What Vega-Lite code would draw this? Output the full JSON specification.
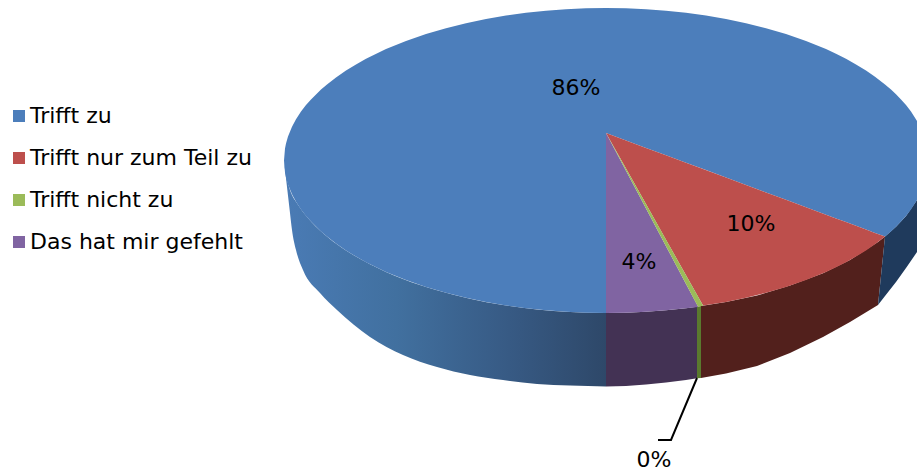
{"$schema":"https://vega.github.io/schema/vega-lite/v6.json","width":917,"height":471,"padding":0,"autosize":"none","background":"white","config":{"view":{"stroke":null}},
"datasets":{
"top":[
{"answer":"Trifft zu","x":284,"upper":160.5,"lower":160.5},{"answer":"Trifft zu","x":285,"upper":148.5,"lower":172.5},{"answer":"Trifft zu","x":286,"upper":143.5,"lower":177.5},{"answer":"Trifft zu","x":288,"upper":136.5,"lower":184.5},{"answer":"Trifft zu","x":292,"upper":126.7,"lower":194.3},{"answer":"Trifft zu","x":296,"upper":119.2,"lower":201.8},{"answer":"Trifft zu","x":301,"upper":111.6,"lower":209.4},{"answer":"Trifft zu","x":306,"upper":105.1,"lower":215.9},{"answer":"Trifft zu","x":311,"upper":99.4,"lower":221.6},{"answer":"Trifft zu","x":321,"upper":89.5,"lower":231.5},{"answer":"Trifft zu","x":327,"upper":84.4,"lower":236.6},{"answer":"Trifft zu","x":336,"upper":77.4,"lower":243.6},{"answer":"Trifft zu","x":346,"upper":70.5,"lower":250.5},{"answer":"Trifft zu","x":356,"upper":64.4,"lower":256.6},{"answer":"Trifft zu","x":366,"upper":58.8,"lower":262.2},{"answer":"Trifft zu","x":386,"upper":49.1,"lower":271.9},{"answer":"Trifft zu","x":406,"upper":41,"lower":280},{"answer":"Trifft zu","x":426,"upper":34.1,"lower":286.9},{"answer":"Trifft zu","x":446,"upper":28.2,"lower":292.8},{"answer":"Trifft zu","x":466,"upper":23.2,"lower":297.8},{"answer":"Trifft zu","x":486,"upper":19,"lower":302},{"answer":"Trifft zu","x":506,"upper":15.5,"lower":305.5},{"answer":"Trifft zu","x":526,"upper":12.8,"lower":308.2},{"answer":"Trifft zu","x":546,"upper":10.7,"lower":310.3},{"answer":"Trifft zu","x":566,"upper":9.2,"lower":311.8},{"answer":"Trifft zu","x":586,"upper":8.3,"lower":312.7},{"answer":"Trifft zu","x":606,"upper":8,"lower":313},{"answer":"Trifft zu","x":606,"upper":8,"lower":133},{"answer":"Trifft zu","x":626,"upper":8.3,"lower":140.4},{"answer":"Trifft zu","x":646,"upper":9.2,"lower":147.9},{"answer":"Trifft zu","x":666,"upper":10.7,"lower":155.3},{"answer":"Trifft zu","x":686,"upper":12.8,"lower":162.7},{"answer":"Trifft zu","x":706,"upper":15.5,"lower":170.1},{"answer":"Trifft zu","x":726,"upper":19,"lower":177.6},{"answer":"Trifft zu","x":746,"upper":23.2,"lower":185},{"answer":"Trifft zu","x":766,"upper":28.2,"lower":192.4},{"answer":"Trifft zu","x":786,"upper":34.1,"lower":199.8},{"answer":"Trifft zu","x":806,"upper":41,"lower":207.3},{"answer":"Trifft zu","x":816,"upper":44.9,"lower":211},{"answer":"Trifft zu","x":826,"upper":49.1,"lower":214.7},{"answer":"Trifft zu","x":836,"upper":53.8,"lower":218.4},{"answer":"Trifft zu","x":846,"upper":58.8,"lower":222.1},{"answer":"Trifft zu","x":856,"upper":64.4,"lower":225.8},{"answer":"Trifft zu","x":866,"upper":70.5,"lower":229.5},{"answer":"Trifft zu","x":875,"upper":76.7,"lower":232.9},{"answer":"Trifft zu","x":885,"upper":84.4,"lower":236.6},{"answer":"Trifft zu","x":891,"upper":89.5,"lower":231.5},{"answer":"Trifft zu","x":896,"upper":94.2,"lower":226.8},{"answer":"Trifft zu","x":901,"upper":99.4,"lower":221.6},{"answer":"Trifft zu","x":906,"upper":105.1,"lower":215.9},{"answer":"Trifft zu","x":911,"upper":111.6,"lower":209.4},{"answer":"Trifft zu","x":917,"upper":121,"lower":200},
{"answer":"Trifft nur zum Teil zu","x":606,"upper":133,"lower":133},{"answer":"Trifft nur zum Teil zu","x":626,"upper":140.4,"lower":168.6},{"answer":"Trifft nur zum Teil zu","x":646,"upper":147.9,"lower":204.1},{"answer":"Trifft nur zum Teil zu","x":666,"upper":155.3,"lower":239.7},{"answer":"Trifft nur zum Teil zu","x":686,"upper":162.7,"lower":275.2},{"answer":"Trifft nur zum Teil zu","x":703,"upper":169,"lower":305.5},{"answer":"Trifft nur zum Teil zu","x":726,"upper":177.6,"lower":302},{"answer":"Trifft nur zum Teil zu","x":746,"upper":185,"lower":297.8},{"answer":"Trifft nur zum Teil zu","x":766,"upper":192.4,"lower":292.8},{"answer":"Trifft nur zum Teil zu","x":786,"upper":199.8,"lower":286.9},{"answer":"Trifft nur zum Teil zu","x":806,"upper":207.3,"lower":280},{"answer":"Trifft nur zum Teil zu","x":816,"upper":211,"lower":276.1},{"answer":"Trifft nur zum Teil zu","x":826,"upper":214.7,"lower":271.9},{"answer":"Trifft nur zum Teil zu","x":836,"upper":218.4,"lower":267.2},{"answer":"Trifft nur zum Teil zu","x":846,"upper":222.1,"lower":262.2},{"answer":"Trifft nur zum Teil zu","x":856,"upper":225.8,"lower":256.6},{"answer":"Trifft nur zum Teil zu","x":866,"upper":229.5,"lower":250.5},{"answer":"Trifft nur zum Teil zu","x":875,"upper":232.9,"lower":244.3},{"answer":"Trifft nur zum Teil zu","x":885,"upper":236.6,"lower":236.6},
{"answer":"Das hat mir gefehlt","x":606,"upper":133,"lower":313},{"answer":"Das hat mir gefehlt","x":626,"upper":170.7,"lower":312.7},{"answer":"Das hat mir gefehlt","x":646,"upper":208.4,"lower":311.8},{"answer":"Das hat mir gefehlt","x":666,"upper":246.2,"lower":310.3},{"answer":"Das hat mir gefehlt","x":686,"upper":283.9,"lower":308.2},{"answer":"Das hat mir gefehlt","x":698,"upper":306.5,"lower":306.9},
{"answer":"Trifft nicht zu","x":606,"upper":133,"lower":133},{"answer":"Trifft nicht zu","x":646,"upper":204.1,"lower":208.4},{"answer":"Trifft nicht zu","x":686,"upper":275.2,"lower":283.9},{"answer":"Trifft nicht zu","x":698,"upper":296.6,"lower":306.7},{"answer":"Trifft nicht zu","x":703,"upper":305.5,"lower":305.7}
],
"sideBlue":[{"x":284,"upper":160.5,"lower":161},{"x":287,"upper":179,"lower":187},{"x":290,"upper":190,"lower":213},{"x":292,"upper":195,"lower":230},{"x":296,"upper":201.8,"lower":250},{"x":303,"upper":212,"lower":270},{"x":320,"upper":230.5,"lower":293},{"x":337,"upper":244.3,"lower":310},{"x":370,"upper":264.2,"lower":337},{"x":403,"upper":278.9,"lower":355},{"x":437,"upper":290.3,"lower":367},{"x":470,"upper":298.7,"lower":375},{"x":503,"upper":305,"lower":380},{"x":537,"upper":309.5,"lower":384},{"x":570,"upper":312,"lower":385.5},{"x":606,"upper":313,"lower":386.5}],
"sidePurple":[{"x":606,"upper":313,"lower":386.5},{"x":626,"upper":312.7,"lower":386},{"x":646,"upper":311.8,"lower":384.5},{"x":666,"upper":310.3,"lower":382.5},{"x":686,"upper":308.2,"lower":380},{"x":697,"upper":306.8,"lower":378.3}],
"sideGreen":[{"x":697,"upper":306.8,"lower":378.3},{"x":701,"upper":306,"lower":378}],
"sideRed":[{"x":701,"upper":306,"lower":378},{"x":726,"upper":302,"lower":373.5},{"x":757,"upper":295.5,"lower":366},{"x":790,"upper":285.6,"lower":353},{"x":823,"upper":273.2,"lower":337},{"x":850,"upper":260,"lower":322},{"x":878,"upper":242,"lower":305},{"x":885,"upper":236.6,"lower":237}],
"sideNavy":[{"x":878,"upper":305,"lower":305},{"x":885,"upper":236.6,"lower":296},{"x":896,"upper":226.8,"lower":282},{"x":906,"upper":215.9,"lower":268},{"x":917,"upper":200,"lower":252}],
"labels":[{"text":"86%","x":576,"y":88},{"text":"10%","x":751,"y":224},{"text":"4%","x":639,"y":262},{"text":"0%","x":654,"y":460}],
"leader":[{"x":697,"y":378,"o":1},{"x":671,"y":440,"o":2},{"x":658,"y":440,"o":3}]
},
"layer":[
{"data":{"name":"sideBlue"},"mark":{"type":"area","interpolate":"monotone","color":{"x1":0,"y1":0,"x2":1,"y2":0,"gradient":"linear","stops":[{"offset":0,"color":"#4a7bb5"},{"offset":0.35,"color":"#41709f"},{"offset":0.7,"color":"#375a84"},{"offset":1,"color":"#2e4869"}]}},"encoding":{"x":{"field":"x","type":"quantitative","scale":{"domain":[0,917],"nice":false,"zero":false},"axis":null},"y":{"field":"upper","type":"quantitative","stack":null,"scale":{"domain":[471,0],"nice":false,"zero":false},"axis":null},"y2":{"field":"lower"}}},
{"data":{"name":"sidePurple"},"mark":{"type":"area","color":"#433254"},"encoding":{"x":{"field":"x","type":"quantitative","axis":null},"y":{"field":"upper","type":"quantitative","stack":null,"axis":null},"y2":{"field":"lower"}}},
{"data":{"name":"sideGreen"},"mark":{"type":"area","color":"#5a7a2e"},"encoding":{"x":{"field":"x","type":"quantitative","axis":null},"y":{"field":"upper","type":"quantitative","stack":null,"axis":null},"y2":{"field":"lower"}}},
{"data":{"name":"sideRed"},"mark":{"type":"area","color":"#52201c"},"encoding":{"x":{"field":"x","type":"quantitative","axis":null},"y":{"field":"upper","type":"quantitative","stack":null,"axis":null},"y2":{"field":"lower"}}},
{"data":{"name":"sideNavy"},"mark":{"type":"area","color":"#1f3a5c"},"encoding":{"x":{"field":"x","type":"quantitative","axis":null},"y":{"field":"upper","type":"quantitative","stack":null,"axis":null},"y2":{"field":"lower"}}},
{"data":{"name":"top"},"mark":{"type":"area"},"encoding":{"x":{"field":"x","type":"quantitative","axis":null},"y":{"field":"upper","type":"quantitative","stack":null,"axis":null},"y2":{"field":"lower"},"color":{"field":"answer","type":"nominal","scale":{"domain":["Trifft zu","Trifft nur zum Teil zu","Trifft nicht zu","Das hat mir gefehlt"],"range":["#4c7ebb","#bd4f4c","#9bbb59","#8064a2"]},"legend":{"orient":"none","legendX":8,"legendY":106,"title":null,"symbolType":"square","symbolSize":144,"symbolStrokeWidth":0,"symbolOpacity":1,"labelFont":"DejaVu Sans","labelFontSize":22,"labelColor":"#000000","labelOffset":0,"rowPadding":20,"padding":0,"labelLimit":300,"clipHeight":20}}}},
{"data":{"name":"leader"},"mark":{"type":"line","color":"#000000","strokeWidth":2},"encoding":{"x":{"field":"x","type":"quantitative","axis":null},"y":{"field":"y","type":"quantitative","axis":null},"order":{"field":"o","type":"ordinal"}}},
{"data":{"name":"labels"},"mark":{"type":"text","font":"DejaVu Sans","fontSize":22,"color":"#000000","align":"center","baseline":"middle"},"encoding":{"x":{"field":"x","type":"quantitative","axis":null},"y":{"field":"y","type":"quantitative","axis":null},"text":{"field":"text","type":"nominal"}}}
]}
